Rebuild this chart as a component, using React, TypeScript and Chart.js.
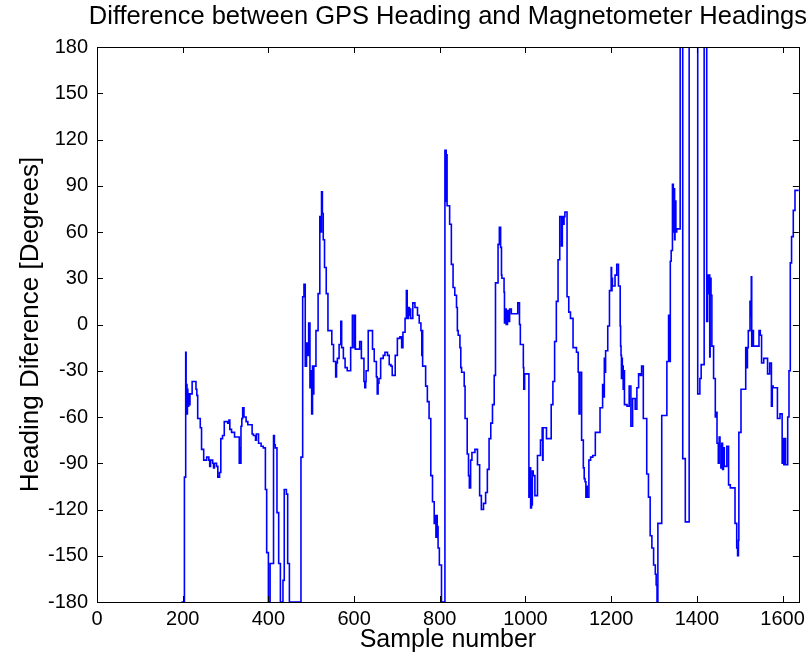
import React, { useEffect, useRef } from "react";
import { Chart, registerables } from "chart.js";

Chart.register(...registerables);

const chartTitle = "Difference between GPS Heading and Magnetometer Headings";
const xAxisLabel = "Sample number";
const yAxisLabel = "Heading Diference [Degrees]";

const xMin = 0;
const xMax = 1638;
const xTickValues = [0, 200, 400, 600, 800, 1000, 1200, 1400, 1600];
const yMin = -180;
const yMax = 180;
const yTickValues = [-180, -150, -120, -90, -60, -30, 0, 30, 60, 90, 120, 150, 180];

// sample index where each held value starts
const sampleIdx = [
  197, 204, 207, 208, 209, 210, 211, 212, 214, 216, 217, 222, 231, 233, 235, 241, 244, 249, 256, 261,
  263, 265, 270, 272, 274, 279, 282, 286, 289, 293, 297, 305, 308, 310, 314, 321, 332, 333, 334, 336,
  338, 340, 343, 348, 352, 362, 365, 370, 372, 377, 383, 388, 393, 396, 400, 404, 412, 414, 416, 420,
  424, 428, 434, 437, 442, 445, 449, 476, 480, 483, 486, 489, 492, 494, 497, 499, 501, 503, 505, 506,
  511, 516, 520, 522, 524, 526, 528, 531, 535, 539, 548, 552, 557, 559, 561, 565, 569, 571, 575, 579,
  584, 592, 596, 600, 601, 603, 613, 617, 623, 625, 627, 628, 633, 643, 647, 652, 654, 656, 658, 662,
  668, 672, 678, 682, 686, 689, 696, 701, 707, 711, 714, 719, 722, 724, 725, 727, 729, 731, 732, 737,
  742, 748, 752, 756, 758, 759, 760, 767, 771, 775, 779, 783, 787, 790, 791, 793, 794, 796, 799, 804,
  812, 813, 814, 815, 816, 817, 823, 827, 831, 835, 839, 841, 843, 847, 849, 851, 857, 859, 864, 867,
  869, 872, 875, 882, 888, 893, 897, 902, 907, 911, 915, 919, 923, 927, 930, 936, 939, 942, 944, 945,
  950, 951, 953, 955, 958, 960, 963, 967, 982, 986, 988, 995, 996, 998, 1008, 1011, 1012, 1014, 1015, 1016,
  1018, 1022, 1028, 1035, 1039, 1040, 1041, 1049, 1060, 1064, 1068, 1072, 1076, 1080, 1084, 1086, 1088, 1090, 1092, 1097,
  1101, 1105, 1111, 1119, 1123, 1125, 1127, 1131, 1135, 1137, 1139, 1141, 1143, 1144, 1148, 1152, 1157, 1163, 1169, 1174,
  1180, 1182, 1184, 1186, 1187, 1192, 1196, 1200, 1201, 1202, 1203, 1209, 1213, 1217, 1221, 1222, 1223, 1224, 1225, 1226,
  1228, 1229, 1231, 1237, 1242, 1246, 1250, 1256, 1260, 1264, 1268, 1271, 1275, 1283, 1287, 1291, 1295, 1299, 1303, 1305,
  1307, 1309, 1318, 1330, 1334, 1336, 1338, 1340, 1343, 1345, 1346, 1348, 1349, 1351, 1353, 1361, 1367, 1373, 1382, 1402,
  1407, 1410, 1417, 1423, 1425, 1427, 1429, 1430, 1431, 1433, 1435, 1439, 1443, 1445, 1447, 1450, 1452, 1454, 1456, 1458,
  1460, 1462, 1464, 1470, 1474, 1478, 1489, 1493, 1495, 1497, 1498, 1503, 1514, 1516, 1518, 1520, 1524, 1526, 1527, 1528,
  1530, 1532, 1545, 1548, 1551, 1556, 1565, 1570, 1574, 1576, 1578, 1588, 1594, 1599, 1601, 1603, 1605, 1607, 1612, 1615,
  1618, 1621, 1625, 1629, 1638,
];

// heading difference (degrees) held from the matching sample index
const headingDiff = [
  -180, -99, -18, -50, -39, -58, -42, -53, -45, -52, -45, -37, -42, -46, -61, -67, -81, -88, -86, -88,
  -92, -88, -90, -93, -90, -92, -99, -96, -74, -72, -63, -64, -62, -68, -70, -73, -90, -80, -90, -66,
  -61, -54, -60, -63, -65, -71, -72, -75, -71, -77, -79, -80, -107, -148, -180, -155, -72, -78, -80, -122,
  -155, -180, -166, -107, -110, -155, -180, -86, 18, 26, -27, -12, -20, 1, -41, -30, -58, -27, -45, -27,
  -4, 20, 70, 60, 86, 72, 55, 37, 20, -4, -13, -24, -34, -25, -22, -13, 2, -15, -22, -28,
  -30, -15, 6, -15, 6, -16, -11, -22, -37, -41, -37, -30, -4, -16, -24, -34, -45, -38, -35, -22,
  -20, -18, -20, -26, -27, -33, -20, -9, -8, -15, -5, 4, 22, 11, 4, 11, 6, 10, 4, 14,
  11, 6, 1, -4, -20, -4, -27, -40, -50, -61, -98, -115, -129, -124, -138, -124, -131, -145, -156, -180,
  113, 80, 113, 85, 110, 77, 65, 39, 24, 19, 11, -4, -7, -15, -28, -31, -40, -61, -84, -98,
  -106, -88, -83, -81, -91, -111, -120, -116, -109, -94, -74, -64, -52, -33, 27, 52, 63, 50, 32, 30,
  21, 1, 10, 0, 9, 2, 10, 7, 14, 0, -13, -28, -42, -32, -112, -93, -119, -100, -117, -95,
  -98, -111, -85, -75, -67, -88, -67, -74, -52, -37, -11, 15, 42, 70, 51, 70, 65, 70, 73, 18,
  8, 4, -15, -18, -31, -58, -31, -75, -93, -100, -102, -112, -105, -112, -88, -86, -85, -70, -70, -54,
  -39, -47, -22, -31, -17, -1, 22, 37, 22, 30, 25, 32, 39, 25, -1, -14, -20, -35, -22, -27,
  -42, -30, -52, -53, -40, -66, -48, -55, -41, -32, -33, -27, -61, -97, -112, -137, -145, -156, -162, -169,
  -180, -129, -59, -24, 6, -24, 41, 48, 91, 60, 88, 55, 80, 60, 62, 180, -87, -128, 180, -45,
  -35, -26, 180, 2, 32, 20, 32, -21, 30, 19, -14, -35, -60, -57, -77, -90, -73, -79, -93, -77,
  -94, -80, -92, -79, -104, -106, -129, -145, -150, -140, -70, -42, -15, -28, -15, -4, 15, 5, 31, -14,
  -4, -14, -4, -7, -25, -22, -32, -25, -53, -40, -41, -61, -58, -90, -74, -91, -74, -91, -60, -30,
  40, 57, 74, 87, 87,
];

const FONT = "'Liberation Sans', Arial, Helvetica, sans-serif";

const framePlugin = {
  id: "matlabFrame",
  afterDraw(chart: any) {
    const { ctx, chartArea } = chart;
    const { left, right, top, bottom } = chartArea;
    const xs = chart.scales.x;
    const ys = chart.scales.y;
    const tl = 6;
    ctx.save();
    ctx.strokeStyle = "#000000";
    ctx.lineWidth = 1;
    ctx.beginPath();
    for (const v of xTickValues) {
      const px = Math.round(xs.getPixelForValue(v)) + 0.5;
      ctx.moveTo(px, bottom);
      ctx.lineTo(px, bottom - tl);
      ctx.moveTo(px, top);
      ctx.lineTo(px, top + tl);
    }
    for (const v of yTickValues) {
      const py = Math.round(ys.getPixelForValue(v)) + 0.5;
      ctx.moveTo(left, py);
      ctx.lineTo(left + tl, py);
      ctx.moveTo(right, py);
      ctx.lineTo(right - tl, py);
    }
    ctx.stroke();
    ctx.strokeRect(Math.round(left) + 0.5, Math.round(top) + 0.5, Math.round(right - left), Math.round(bottom - top));
    ctx.fillStyle = "#000000";
    ctx.font = `25.5px ${FONT}`;
    ctx.textAlign = "center";
    ctx.textBaseline = "middle";
    ctx.fillText(chartTitle, (left + right) / 2, 17);
    ctx.restore();
  },
};

export default function App() {
  const canvasRef = useRef<HTMLCanvasElement | null>(null);

  useEffect(() => {
    document.body.style.margin = "0";
    const canvas = canvasRef.current;
    if (!canvas) return;
    const points = sampleIdx.map((s, i) => ({ x: s, y: headingDiff[i] }));
    const chart = new Chart(canvas, {
      type: "line",
      data: {
        datasets: [
          {
            data: points,
            borderColor: "#0000ff",
            borderWidth: 1.6,
            pointRadius: 0,
            stepped: "before",
            fill: false,
            tension: 0,
          },
        ],
      },
      options: {
        responsive: false,
        animation: false,
        layout: { padding: { left: 0, right: 8, top: 47, bottom: 0 } },
        plugins: {
          legend: { display: false },
          tooltip: { enabled: false },
          title: { display: false },
        },
        scales: {
          x: {
            type: "linear",
            min: xMin,
            max: xMax,
            grid: { display: false, drawTicks: false },
            border: { display: false },
            afterBuildTicks: (scale: any) => {
              scale.ticks = xTickValues.map((v) => ({ value: v }));
            },
            afterFit: (scale: any) => {
              scale.height = 66;
            },
            ticks: {
              maxRotation: 0,
              minRotation: 0,
              autoSkip: false,
              padding: 5,
              color: "#000000",
              font: { family: FONT, size: 20 },
              callback: (v: any) => String(v),
            },
            title: {
              display: true,
              text: xAxisLabel,
              color: "#000000",
              font: { family: FONT, size: 25 },
              padding: { top: 0, bottom: 13 },
            },
          },
          y: {
            type: "linear",
            min: yMin,
            max: yMax,
            grid: { display: false, drawTicks: false },
            border: { display: false },
            afterBuildTicks: (scale: any) => {
              scale.ticks = yTickValues.map((v) => ({ value: v }));
            },
            afterFit: (scale: any) => {
              scale.width = 97;
            },
            ticks: {
              autoSkip: false,
              padding: 9,
              color: "#000000",
              font: { family: FONT, size: 20 },
              callback: (v: any) => String(v),
            },
            title: {
              display: true,
              text: yAxisLabel,
              color: "#000000",
              font: { family: FONT, size: 26 },
              padding: { top: 15, bottom: 0 },
            },
          },
        },
      },
      plugins: [framePlugin],
    });
    return () => chart.destroy();
  }, []);

  return (
    <div style={{ width: 810, height: 668, background: "#ffffff" }}>
      <canvas ref={canvasRef} width={810} height={668} />
    </div>
  );
}
